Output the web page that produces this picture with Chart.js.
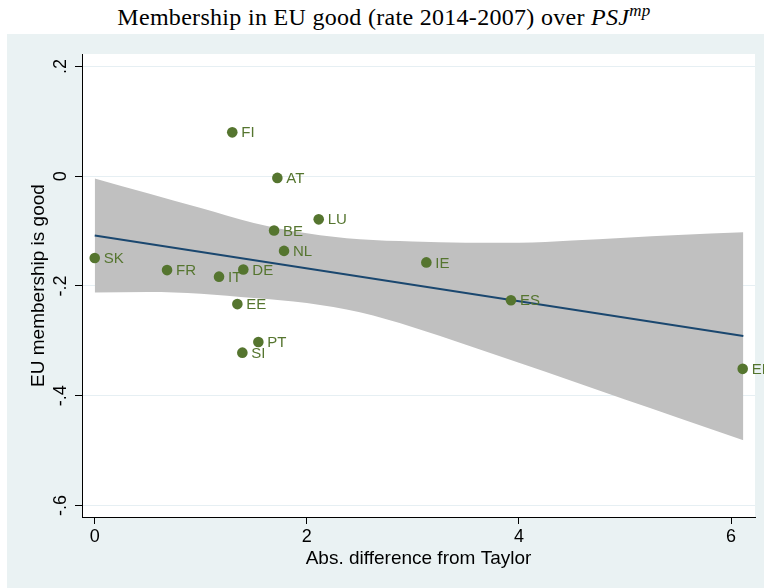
<!DOCTYPE html>
<html>
<head>
<meta charset="utf-8">
<script src="https://cdn.jsdelivr.net/npm/chart.js@4.4.1/dist/chart.umd.min.js"></script>
<style>
    html, body { margin: 0; padding: 0; background: #fff; }
    body { width: 764px; height: 588px; position: relative; overflow: hidden; }
    #chart-title {
        position: absolute; left: 0; top: 0; width: 764px; height: 34px;
        box-sizing: border-box; padding-left: 4px;
        text-align: center; line-height: 34px; letter-spacing: 0.3px;
        font-family: "Liberation Serif", "DejaVu Serif", serif; font-size: 24px; color: #000;
    }
    #chart-title sup { font-size: 17px; vertical-align: 9px; line-height: 0; }
    #chart-wrap { position: absolute; left: 7px; top: 34px; width: 757px; height: 554px; background: #eaf2f3; }
</style>
</head>
<body>
<div id="chart-title">Membership in EU good (rate 2014-2007) over <i>PSJ</i><sup><i>mp</i></sup></div>
<div id="chart-wrap"><canvas id="euChart" width="757" height="554"></canvas></div>
<script>
// Countries and their values
const COUNTRIES = ['FI', 'AT', 'LU', 'BE', 'NL', 'SK', 'FR', 'DE', 'IT', 'EE', 'PT', 'SI', 'IE', 'ES', 'EL'];
const ABS_DIFF = [1.297, 1.722, 2.112, 1.691, 1.785, 0.0, 0.682, 1.401, 1.172, 1.345, 1.543, 1.392, 3.127, 3.925, 6.11];
const EU_GOOD = [0.080, -0.003, -0.0785, -0.099, -0.136, -0.149, -0.171, -0.170, -0.183, -0.233, -0.302, -0.3215, -0.157, -0.226, -0.351];

// Linear fit and its confidence band
const FIT_X = [0, 6.116];
const FIT_Y = [-0.108, -0.291];
const BAND_X = [0, 0.5, 1, 1.5, 2, 2.5, 3, 3.5, 4, 4.5, 5, 5.5, 6.116];
const BAND_UPPER = [-0.004, -0.031, -0.058, -0.085, -0.104, -0.115, -0.119, -0.121, -0.121, -0.117, -0.112, -0.107, -0.102];
const BAND_LOWER = [-0.212, -0.211, -0.214, -0.222, -0.231, -0.248, -0.275, -0.307, -0.340, -0.373, -0.407, -0.440, -0.481];

const X_TICKS = [0, 2, 4, 6];
const Y_TICKS = [0.2, 0, -0.2, -0.4, -0.6];
const Y_TICK_LABELS = ['.2', '0', '-.2', '-.4', '-.6'];

const POINT_COLOR = '#55752f';
const LINE_COLOR = '#1a476f';
const BAND_COLOR = '#c0c0c0';
const SANS = '"Liberation Sans", Arial, sans-serif';

const toXY = (xs, ys) => xs.map((x, i) => ({ x: x, y: ys[i] }));

const plotBackground = {
    id: 'plotBackground',
    beforeDraw(chart) {
        const { ctx, chartArea: a } = chart;
        ctx.save();
        ctx.fillStyle = '#ffffff';
        ctx.fillRect(a.left, a.top, a.right - a.left, a.bottom - a.top);
        ctx.restore();
    }
};

const pointLabels = {
    id: 'pointLabels',
    afterDatasetsDraw(chart) {
        const meta = chart.getDatasetMeta(3);
        const ctx = chart.ctx;
        ctx.save();
        ctx.font = '15px ' + SANS;
        ctx.fillStyle = POINT_COLOR;
        ctx.textBaseline = 'middle';
        meta.data.forEach((pt, i) => ctx.fillText(COUNTRIES[i], pt.x + 9, pt.y + 1));
        ctx.restore();
    }
};

new Chart(document.getElementById('euChart').getContext('2d'), {
    type: 'scatter',
    data: {
        datasets: [
            {
                type: 'line', data: toXY(BAND_X, BAND_UPPER), order: 3,
                borderWidth: 0, pointRadius: 0, fill: '+1', backgroundColor: BAND_COLOR,
                cubicInterpolationMode: 'monotone'
            },
            {
                type: 'line', data: toXY(BAND_X, BAND_LOWER), order: 3,
                borderWidth: 0, pointRadius: 0, fill: false,
                cubicInterpolationMode: 'monotone'
            },
            {
                type: 'line', data: toXY(FIT_X, FIT_Y), order: 2,
                borderColor: LINE_COLOR, borderWidth: 2, pointRadius: 0, fill: false
            },
            {
                data: toXY(ABS_DIFF, EU_GOOD), order: 1,
                pointRadius: 5.3, backgroundColor: POINT_COLOR, borderWidth: 0
            }
        ]
    },
    options: {
        responsive: false,
        animation: false,
        events: [],
        devicePixelRatio: 1,
        layout: { padding: { top: 20, right: 9, left: 0, bottom: 0 } },
        plugins: { legend: { display: false }, tooltip: { enabled: false } },
        scales: {
            x: {
                type: 'linear', min: -0.12, max: 6.226,
                afterBuildTicks: s => { s.ticks = X_TICKS.map(v => ({ value: v })); },
                afterFit: s => { s.height = 71; },
                border: { display: true, color: '#000', width: 1 },
                grid: { drawOnChartArea: false, drawTicks: true, tickLength: 7, tickColor: '#000' },
                ticks: { color: '#000', font: { family: SANS, size: 18 }, padding: 2, maxRotation: 0 },
                title: { display: true, text: 'Abs. difference from Taylor', color: '#000',
                         font: { family: SANS, size: 19 }, padding: { top: 0, bottom: 18 } }
            },
            y: {
                type: 'linear', min: -0.621, max: 0.2228,
                afterBuildTicks: s => { s.ticks = Y_TICKS.map(v => ({ value: v })); },
                afterFit: s => { s.width = 75; },
                border: { display: true, color: '#000', width: 1 },
                grid: { color: '#e6eff3', lineWidth: 1, drawTicks: true, tickLength: 7, tickColor: '#000' },
                ticks: {
                    color: '#000', font: { family: SANS, size: 18 }, padding: 3,
                    minRotation: 90, maxRotation: 90, crossAlign: 'center',
                    callback: (v, i) => Y_TICK_LABELS[i]
                },
                title: { display: true, text: 'EU membership is good', color: '#000',
                         font: { family: SANS, size: 19 }, padding: { top: 20, bottom: 0 } }
            }
        }
    },
    plugins: [plotBackground, pointLabels]
});
</script>
</body>
</html>
